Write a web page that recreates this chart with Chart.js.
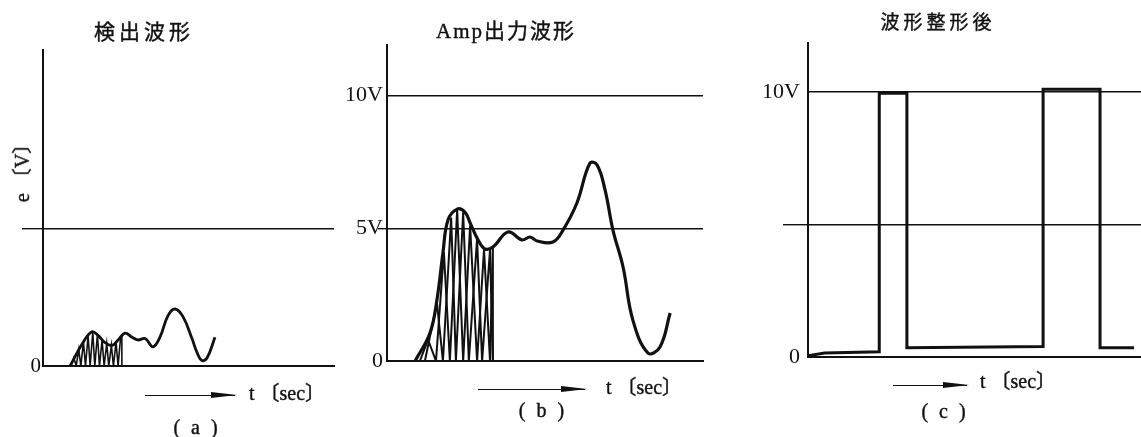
<!DOCTYPE html>
<html lang="ja">
<head>
<meta charset="utf-8">
<title>検出波形 / Amp出力波形 / 波形整形後</title>
<script src="https://cdn.jsdelivr.net/npm/chart.js@4.4.1/dist/chart.umd.min.js"></script>
<style>
  html, body { margin: 0; padding: 0; background: #fff; }
  #page {
    position: relative; width: 1141px; height: 437px; overflow: hidden;
    font-family: "Liberation Serif", "Noto Sans CJK JP", serif; color: #111;
  }
  canvas { position: absolute; top: 0; }
  .txt {
    position: absolute; transform: translate(-50%, -50%); white-space: pre; line-height: 1;
    -webkit-text-stroke: 0.4px #111;
  }
  .title { font-size: 21px; }
  .axis-name { transform: translate(-50%, -50%) rotate(-90deg); font-size: 20px; }
  .unit { font-size: 20px; }
  .panel { font-size: 20px; letter-spacing: 3px; }
  .arrow { position: absolute; height: 0; border-top: 1.5px solid #111; }
  .arrow::after {
    content: ''; position: absolute; right: -2px; top: -3.75px;
    border-left: 26px solid #111; border-top: 3px solid transparent; border-bottom: 3px solid transparent;
  }
</style>
</head>
<body>
<div id="page">
  <canvas id="chartA" width="340" height="437" style="left:0px"></canvas>
  <canvas id="chartB" width="370" height="437" style="left:340px"></canvas>
  <canvas id="chartC" width="401" height="437" style="left:740px"></canvas>

  <div class="txt title" style="left:144px; top:32px; letter-spacing:4px">検出波形</div>
  <div class="txt title" style="left:506px; top:31px; letter-spacing:2px">Amp出力波形</div>
  <div class="txt title" style="left:938px; top:22px; font-size:19px; letter-spacing:4px">波形整形後</div>

  <div class="txt axis-name" style="left:22px; top:168px">e 〔V〕</div>

  <div class="arrow" style="left:145px; top:395px; width:90px"></div>
  <div class="arrow" style="left:478px; top:389px; width:107px"></div>
  <div class="arrow" style="left:893px; top:385px; width:74px"></div>

  <div class="txt unit" style="left:287px; top:393px">t 〔sec〕</div>
  <div class="txt unit" style="left:644px; top:387px">t 〔sec〕</div>
  <div class="txt unit" style="left:1018px; top:381px">t 〔sec〕</div>

  <div class="txt panel" style="left:197px; top:427px">( a )</div>
  <div class="txt panel" style="left:543px; top:410px">( b )</div>
  <div class="txt panel" style="left:945px; top:411px">( c )</div>
</div>

<script>
// (a) 検出波形 : detected signal
const timeA = [9.3, 13.7, 16.8, 18.9, 21.3, 23.7, 25.8, 28.2, 30.6, 32.6, 35.1, 37.8, 40.2, 43.0, 45.4, 48.1, 51.2, 52.9, 54.6, 56.4, 59.1];
const voltA = [0, 0.85, 1.25, 1.12, 0.85, 0.75, 0.95, 1.2, 1.05, 0.95, 1.0, 0.7, 1.05, 1.85, 2.08, 1.8, 1.0, 0.5, 0.2, 0.3, 1.05];
// carrier strokes under the first hump
const hatchTimeA = [9.6, 10.6, 11.4, 12.3, 13.0, 13.9, 14.6, 15.5, 16.2, 17.1, 17.8, 18.7, 19.4, 20.3, 21.0, 21.9, 22.6, 23.5, 24.2, 25.1, 25.8, 26.7, 27.1, 27.1];
const hatchVoltA = [0, 0.3, 0, 0.6, 0, 0.88, 0, 1.1, 0, 1.24, 0, 1.15, 0, 0.95, 0, 0.82, 0, 0.75, 0, 0.88, 0, 1.08, 1.12, 0];
const tickValuesA = [0, 5];
const tickLabelsA = ['0', ''];

// (b) Amp出力波形 : amplifier output
const timeB = [8.9, 13.6, 15.8, 17.7, 19.3, 22.2, 24.7, 26.3, 28.8, 31.0, 33.5, 38.3, 42.7, 45.3, 47.5, 52.5, 55.7, 60.1, 64.2, 66.5, 69.0, 71.5, 74.7, 77.8, 82.6, 86.4, 89.6];
const voltB = [0, 1.05, 2.3, 4.07, 5.31, 5.72, 5.6, 5.2, 4.56, 4.22, 4.29, 4.86, 4.56, 4.67, 4.52, 4.48, 4.93, 5.95, 7.45, 7.38, 6.44, 4.93, 3.54, 1.54, 0.3, 0.53, 1.81];
const hatchTime1B = [10.4, 13.0, 15.5, 18.0, 19.9, 22.2, 24.1, 26.3, 28.5, 30.7, 32.6, 33.5, 33.5];
const hatchVolt1B = [0, 0.8, 0, 4.1, 0, 5.7, 0, 5.1, 0, 4.2, 0, 4.3, 0];
const hatchTime2B = [12.0, 15.8, 17.7, 20.3, 21.8, 24.1, 25.9, 28.5, 30.1, 32.6, 33.5];
const hatchVolt2B = [0, 2.2, 0, 5.4, 0, 5.6, 0, 4.6, 0, 4.2, 0];
const tickValuesB = [0, 5, 10];
const tickLabelsB = ['0', '5V', '10V'];

// (c) 波形整形後 : after wave shaping
const timeC = [0, 5, 21.4, 21.4, 29.7, 29.7, 70.6, 70.6, 87.7, 87.7, 97.9];
const voltC = [0.05, 0.15, 0.2, 9.95, 9.95, 0.35, 0.4, 10.1, 10.1, 0.35, 0.35];
const tickValuesC = [0, 5, 10];
const tickLabelsC = ['0', '', '10V'];

const INK = '#111';
const serif = '"Liberation Serif", serif';

const toPoints = (xs, ys) => xs.map((x, i) => ({ x, y: ys[i] }));

function line(xs, ys, width, tension) {
  return {
    data: toPoints(xs, ys),
    borderColor: INK,
    borderWidth: width,
    pointRadius: 0,
    tension,
    fill: false,
  };
}

function makeChart(id, { datasets, yMax, tickValues, tickLabels, axisWidth, tickLength, tickPadding, padding, fontSize }) {
  return new Chart(document.getElementById(id), {
    type: 'line',
    data: { datasets },
    options: {
      responsive: false,
      animation: false,
      events: [],
      layout: { padding },
      plugins: { legend: { display: false }, tooltip: { enabled: false } },
      scales: {
        x: {
          type: 'linear',
          min: 0,
          max: 100,
          ticks: { display: false },
          grid: { display: false },
          border: { color: INK, width: 2 },
          afterFit: (s) => { s.height = 0; },
        },
        y: {
          min: 0,
          max: yMax,
          afterBuildTicks: (s) => { s.ticks = tickValues.map((v) => ({ value: v })); },
          afterFit: (s) => { s.width = axisWidth; },
          ticks: {
            padding: tickPadding,
            color: INK,
            font: { family: serif, size: fontSize },
            callback: (v) => tickLabels[tickValues.indexOf(v)] ?? '',
          },
          grid: {
            color: (ctx) => (ctx.tick && ctx.tick.value === 0 ? 'transparent' : INK),
            lineWidth: 1.4,
            tickLength,
            tickColor: (ctx) => (ctx.tick && ctx.tick.value === 5 ? INK : 'transparent'),
            tickWidth: 1.4,
          },
          border: { color: INK, width: 2 },
        },
      },
    },
  });
}

makeChart('chartA', {
  datasets: [line(hatchTimeA, hatchVoltA, 1.6, 0), line(timeA, voltA, 2.8, 0.4)],
  yMax: 11.53,
  tickValues: tickValuesA,
  tickLabels: tickLabelsA,
  axisWidth: 43,
  tickLength: 21,
  tickPadding: -19,
  padding: { left: 0, top: 50, right: 6, bottom: 71 },
  fontSize: 21,
});

makeChart('chartB', {
  datasets: [
    line(hatchTime1B, hatchVolt1B, 2, 0),
    line(hatchTime2B, hatchVolt2B, 2, 0),
    line(timeB, voltB, 3.2, 0.4),
  ],
  yMax: 11.9,
  tickValues: tickValuesB,
  tickLabels: tickLabelsB,
  axisWidth: 47,
  tickLength: 9,
  tickPadding: -5,
  padding: { left: 0, top: 45, right: 7, bottom: 76 },
  fontSize: 22,
});

makeChart('chartC', {
  datasets: [line(timeC, voltC, 3, 0)],
  yMax: 11.85,
  tickValues: tickValuesC,
  tickLabels: tickLabelsC,
  axisWidth: 68,
  tickLength: 25,
  tickPadding: -17,
  padding: { left: 0, top: 43, right: 0, bottom: 80 },
  fontSize: 22,
});
</script>
</body>
</html>
